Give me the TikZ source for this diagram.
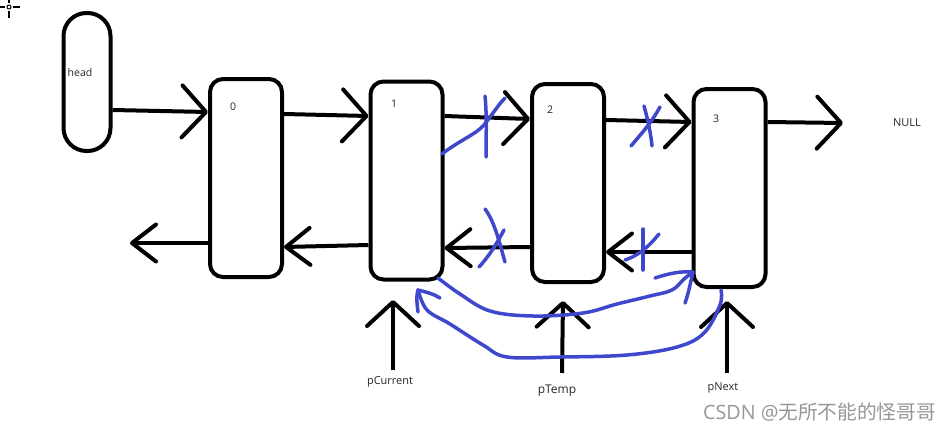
\documentclass[tikz,border=0pt]{standalone}
\usepackage{fontspec}
\setmainfont{Open Sans}
\newfontfamily\cjkfont{Noto Sans CJK SC}
\usetikzlibrary{arrows.meta}
\definecolor{pen}{RGB}{63,72,204}
\definecolor{wm}{RGB}{150,150,150}
\tikzset{
  nodebox/.style={draw, line width=4pt, rounded corners=13pt, minimum width=72pt, minimum height=198pt, inner sep=0pt},
  arr/.style={line width=4pt, -{Straight Barb[length=24pt,width=52pt,round]}},
  backarr/.style={line width=4pt, -{Straight Barb[length=24pt,width=37pt,round]}},
  bluepen/.style={pen, line width=3.5pt, line cap=round, line join=round},
  lbl/.style={font=\fontsize{10.5}{12}\selectfont, text=black!85, inner sep=0pt},
}
\begin{document}
\begin{tikzpicture}[x=1pt,y=-1pt]
\useasboundingbox (0,0) rectangle (949,431);
% cursor glyph
\draw[line width=1.5pt] (0,7) -- (5,7) (13,7) -- (20,7) (9,0) -- (9,3) (9,11) -- (9,18);
\draw[line width=1pt] (9,7) circle (2);
% head
\node[draw, line width=4pt, rounded corners=23pt, minimum width=47pt, minimum height=138pt, inner sep=0pt] (head) at (87,82) {};
\node[lbl, font=\fontsize{10.5}{12}\selectfont] (headt) at (80,73) {head};
% boxes
\node[nodebox] (n0) at (246,178) {};
\node[nodebox] (n1) at (406.5,180.5) {};
\node[nodebox] (n2) at (568,183) {};
\node[nodebox] (n3) at (729.5,188) {};
\node[lbl] (t0) at (233,107) {0};
\node[lbl] (t1) at (394,104) {1};
\node[lbl] (t2) at (550,110) {2};
\node[lbl] (t3) at (716,119) {3};
\node[lbl, font=\fontsize{11}{13}\selectfont] (null) at (907,123) {NULL};
% forward arrows
\draw[arr] (head.east |- 0,110) -- (n0.west |- 0,112);
\draw[arr] (n0.east |- 0,114) -- (n1.west |- 0,116);
\draw[arr] (n1.east |- 0,116) -- (n2.west |- 0,119);
\draw[arr] (n2.east |- 0,120) -- (n3.west |- 0,122);
\coordinate (nullend) at (843,123);
\draw[arr] (n3.east |- 0,122) -- (nullend);
% backward arrows
\coordinate (prevend) at (130,243);
\draw[backarr] (n0.west |- 0,243) -- (prevend);
\draw[backarr] (n1.west |- 0,245) -- (n0.east |- 0,247);
\draw[backarr] (n2.west |- 0,247) -- (n1.east |- 0,248);
\draw[backarr] (n3.west |- 0,252) -- (n2.east |- 0,252);
% pointers
\node[lbl, font=\fontsize{11}{13}\selectfont] (pc) at (390,382) {pCurrent};
\node[lbl, font=\fontsize{12}{14}\selectfont] (pt) at (557,391) {pTemp};
\node[lbl, font=\fontsize{11}{13}\selectfont] (pn) at (723,388) {pNext};
\draw[arr] (393,370) -- (393,300);
\draw[arr] (562,373) -- (563,301);
\draw[arr] (727,373) -- (727,301);
% blue crossings
\draw[bluepen] (442,154) .. controls (460,140) and (475,135) .. (484,125) .. controls (492,115) and (498,105) .. (505,98);
\draw[bluepen] (485,96) .. controls (487,115) and (486,140) .. (486,157);
\draw[bluepen] (631,146) .. controls (640,135) and (650,125) .. (660,107);
\draw[bluepen] (644,106) .. controls (648,120) and (651,135) .. (652,146);
\draw[bluepen] (485,209) .. controls (495,222) and (500,245) .. (505,262);
\draw[bluepen] (479,267) .. controls (490,255) and (497,243) .. (504,230);
\draw[bluepen] (625,260) .. controls (640,255) and (650,245) .. (659,234);
\draw[bluepen] (643,229) .. controls (643,245) and (643,258) .. (643,270);
% blue curve 1 (pCurrent -> pNext)
\draw[bluepen] plot[smooth, tension=0.6] coordinates {(438,278) (460,294) (490,311) (533,316) (583,313) (617,304) (650,296) (672,290) (684,279) (693,272)};
\draw[bluepen] (655,278) .. controls (670,273) and (682,271) .. (693,272) .. controls (690,285) and (688,295) .. (685,303);
% blue curve 2 (pNext -> pCurrent)
\draw[bluepen] plot[smooth, tension=0.6] coordinates {(721,290) (720,305) (704,333) (677,347) (627,355) (560,357) (507,357) (483,345) (450,324) (427,310) (418,290)};
\draw[bluepen] (418,312) .. controls (417,303) and (416,296) .. (418,290) .. controls (426,292) and (434,294) .. (440,298);
% watermark
\node[text=wm, inner sep=0pt, anchor=west, font=\fontsize{19.7}{22}\selectfont] (wmk) at (703,412) {CSDN @{\cjkfont 无所不能的怪哥哥}};
\end{tikzpicture}
\end{document}
